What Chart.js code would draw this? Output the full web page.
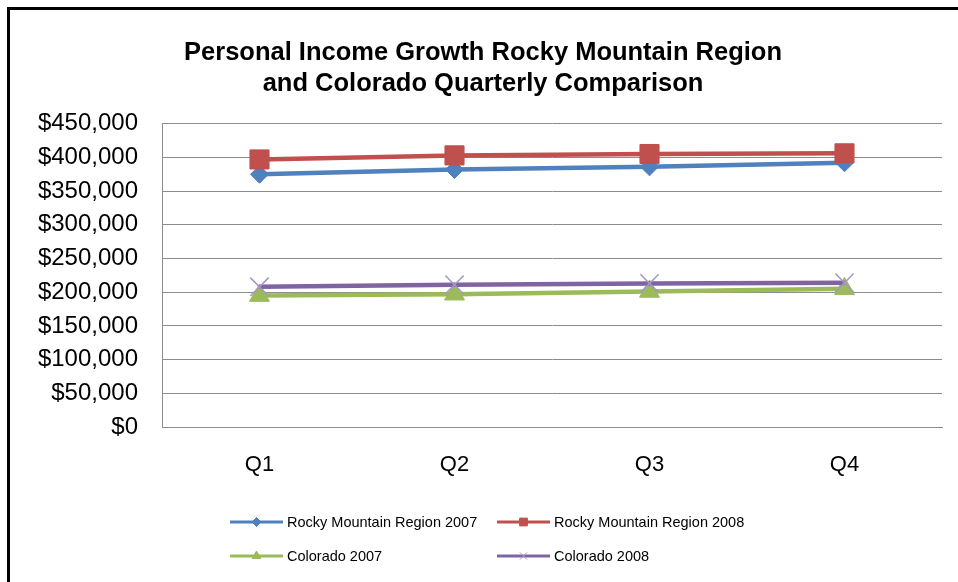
<!DOCTYPE html>
<html>
<head>
<meta charset="utf-8">
<title>Personal Income Growth Rocky Mountain Region and Colorado</title>
<script src="https://cdn.jsdelivr.net/npm/chart.js@4.4.1/dist/chart.umd.min.js"></script>
<style>
  html, body { margin: 0; padding: 0; background: #fff; }
  #wrap { position: relative; width: 958px; height: 582px; overflow: hidden; }
  #chart { position: absolute; left: 0; top: 0; }
  #frame { position: absolute; left: 7px; top: 7px; width: 980px; height: 600px;
           border-top: 3px solid #000; border-left: 3px solid #000; pointer-events: none; }
</style>
</head>
<body>
<div id="wrap">
  <canvas id="chart" width="958" height="582"></canvas>
  <div id="frame"></div>
</div>
<script>
// Données
const quarters = ['Q1', 'Q2', 'Q3', 'Q4'];
const rockyMountain2007 = [375000, 382000, 386000, 392000];
const rockyMountain2008 = [397000, 403000, 405000, 406000];
const colorado2007 = [195000, 197000, 201000, 205000];
const colorado2008 = [208000, 211000, 213000, 214000];
const seriesNames = ['Rocky Mountain Region 2007', 'Rocky Mountain Region 2008', 'Colorado 2007', 'Colorado 2008'];
const titleLines = ['Personal Income Growth Rocky Mountain Region', 'and Colorado Quarterly Comparison'];
const yMin = 0;
const yMax = 450000;
const yStep = 50000;

const fontFamily = '"Liberation Sans", Arial, Helvetica, sans-serif';

// Légende en grille (2 colonnes), dessinée après le graphique
const legendGrille = {
    id: 'legendGrille',
    afterDraw(chart) {
        const ctx = chart.ctx;
        const colonnes = [230, 497];
        const lignes = [522, 556];
        chart.data.datasets.forEach((ds, i) => {
            const x = colonnes[i % 2];
            const y = lignes[Math.floor(i / 2)];
            ctx.save();
            ctx.strokeStyle = ds.borderColor;
            ctx.lineWidth = 3;
            ctx.beginPath();
            ctx.moveTo(x, y);
            ctx.lineTo(x + 53, y);
            ctx.stroke();
            if (Chart.helpers && Chart.helpers.drawPoint) {
                ctx.fillStyle = ds.pointBackgroundColor;
                ctx.strokeStyle = ds.pointBorderColor;
                ctx.lineWidth = 1;
                Chart.helpers.drawPoint(ctx, {
                    pointStyle: ds.pointStyle,
                    radius: ds.legendRadius,
                    rotation: 0,
                    borderWidth: 1
                }, x + 26.5, y);
            }
            ctx.fillStyle = '#000';
            ctx.font = '14.5px ' + fontFamily;
            ctx.textAlign = 'left';
            ctx.textBaseline = 'middle';
            ctx.fillText(ds.label, x + 57, y + 1);
            ctx.restore();
        });
    }
};

const datasets = [
    {
        label: seriesNames[0],
        data: rockyMountain2007,
        borderColor: '#4f81bd',
        pointBackgroundColor: '#4f81bd',
        pointBorderColor: '#4f81bd',
        pointStyle: 'rectRot',
        pointRadius: 9,
        legendRadius: 4.5
    },
    {
        label: seriesNames[1],
        data: rockyMountain2008,
        borderColor: '#c0504d',
        pointBackgroundColor: '#c0504d',
        pointBorderColor: '#c0504d',
        pointStyle: 'rect',
        pointRadius: 13.5,
        legendRadius: 5.5
    },
    {
        label: seriesNames[2],
        data: colorado2007,
        borderColor: '#9bbb59',
        pointBackgroundColor: '#9bbb59',
        pointBorderColor: '#9bbb59',
        pointStyle: 'triangle',
        pointRadius: 11.5,
        legendRadius: 5
    },
    {
        label: seriesNames[3],
        data: colorado2008,
        borderColor: '#8064a2',
        pointBackgroundColor: '#8064a2',
        pointBorderColor: '#a496c8',
        pointStyle: 'crossRot',
        pointRadius: 13,
        pointBorderWidth: 1.5,
        legendRadius: 5
    }
].map((ds, i) => ({
    borderWidth: 4.5,
    pointBorderWidth: 1,
    tension: 0,
    fill: false,
    order: 4 - i,
    ...ds
}));

new Chart(document.getElementById('chart'), {
    type: 'line',
    data: {
        labels: quarters,
        datasets: datasets
    },
    options: {
        responsive: false,
        animation: false,
        layout: {
            padding: { left: 8, right: 0, top: 0, bottom: 105 }
        },
        plugins: {
            legend: { display: false },
            tooltip: { enabled: false },
            title: {
                display: true,
                text: titleLines,
                color: '#000',
                font: { family: fontFamily, size: 25.5, weight: 'bold', lineHeight: 1.2 },
                padding: { top: 38, bottom: 24.5 }
            }
        },
        scales: {
            x: {
                offset: true,
                grid: { display: false, drawTicks: false },
                border: { display: true, color: '#8c8c8c', width: 1 },
                ticks: {
                    color: '#000',
                    font: { family: fontFamily, size: 22 },
                    padding: 25
                },
                afterFit(scale) { scale.height = 50; }
            },
            y: {
                min: yMin,
                max: yMax,
                grid: { color: '#8c8c8c', lineWidth: 1, drawTicks: false },
                border: { display: true, color: '#8c8c8c', width: 1 },
                ticks: {
                    stepSize: yStep,
                    color: '#000',
                    font: { family: fontFamily, size: 24 },
                    padding: 24,
                    callback: value => '$' + value.toLocaleString('en-US')
                },
                afterFit(scale) { scale.width = 154; }
            },
            // marge droite vide, pour garder le titre centré comme l'original
            marge: {
                type: 'linear',
                position: 'right',
                grid: { display: false, drawTicks: false },
                border: { display: false },
                ticks: { display: false },
                afterFit(scale) { scale.width = 16; }
            }
        }
    },
    plugins: [legendGrille]
});
</script>
</body>
</html>
